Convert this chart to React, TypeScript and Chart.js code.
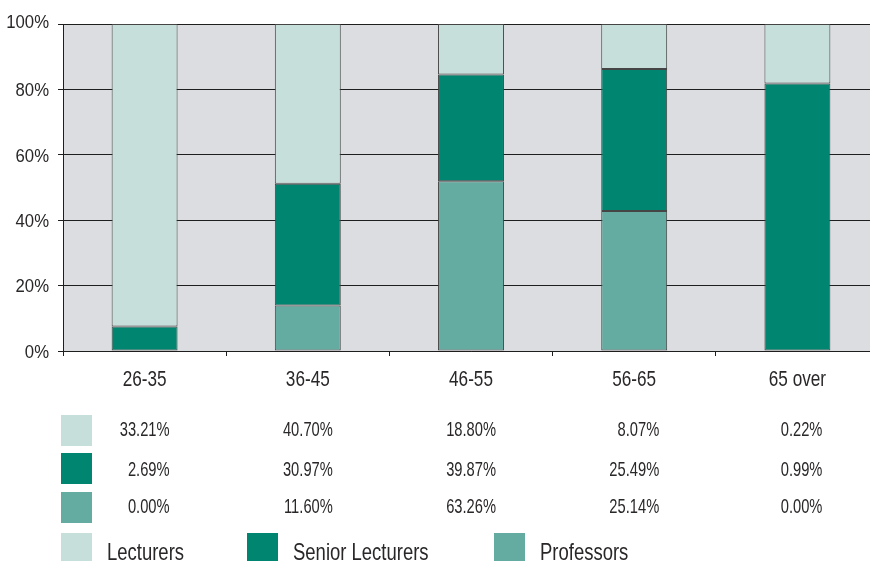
import React, { useEffect, useRef } from "react";
import { Chart, registerables } from "chart.js";

Chart.register(...registerables);

// Share of staff in each age group, by grade (per cent)
const ageGroups = ["26-35", "36-45", "46-55", "56-65", "65 over"];
const lecturers = [33.21, 40.7, 18.8, 8.07, 0.22];
const seniorLecturers = [2.69, 30.97, 39.87, 25.49, 0.99];
const professors = [0.0, 11.6, 63.26, 25.14, 0.0];
const seriesNames = ["Lecturers", "Senior Lecturers", "Professors"];
const seriesColors = ["#c6dfda", "#008570", "#64aca1"];
const yTickStep = 20;

const FONT = '"Liberation Sans", Arial, sans-serif';
const TEXT = "#2a2728";
const LINE = "#1e1e1e";

const totals = ageGroups.map((_, i) => lecturers[i] + seniorLecturers[i] + professors[i]);
const share = (arr: number[]) => arr.map((v, i) => (totals[i] > 0 ? (v / totals[i]) * 100 : 0));
const fmt = (v: number) => v.toFixed(2) + "%";

// Condensed-looking text: a regular sans squeezed horizontally
function drawText(
  ctx: CanvasRenderingContext2D,
  text: string,
  x: number,
  y: number,
  size: number,
  squeeze: number,
  align: CanvasTextAlign
) {
  ctx.save();
  ctx.translate(x, y);
  ctx.scale(squeeze, 1);
  ctx.font = `${size}px ${FONT}`;
  ctx.fillStyle = TEXT;
  ctx.textAlign = align;
  ctx.textBaseline = "alphabetic";
  ctx.fillText(text, 0, 0);
  ctx.restore();
}

// Axis labels, value table and legend
const textPlugin = {
  id: "condensedText",
  afterDraw(chart: any) {
    const ctx: CanvasRenderingContext2D = chart.ctx;
    const xs = chart.scales.x;
    const ys = chart.scales.y;

    // y tick labels (the top one sits a little higher)
    const last = ys.ticks.length - 1;
    ys.ticks.forEach((t: any, i: number) => {
      const py = ys.getPixelForTick(i) + (i === last ? -3 : 0);
      drawText(ctx, t.value + "%", 49, py + 6.8, 19, 0.88, "right");
    });

    // category labels
    ageGroups.forEach((g, i) => {
      drawText(ctx, g, xs.getPixelForValue(i), 385.5, 22, 0.78, "center");
    });

    // value table
    const rows = [lecturers, seniorLecturers, professors];
    const swatchTops = [415, 453, 492];
    const baselines = [436, 475.5, 513];
    const sw = 31;
    rows.forEach((row, r) => {
      ctx.fillStyle = seriesColors[r];
      ctx.fillRect(61, swatchTops[r], sw, sw);
      row.forEach((v, i) => {
        drawText(ctx, fmt(v), xs.getPixelForValue(i) + 25, baselines[r], 21, 0.7, "right");
      });
    });

    // legend
    const legendX = [61, 247, 494];
    const legendTop = 533;
    seriesNames.forEach((name, k) => {
      ctx.fillStyle = seriesColors[k];
      ctx.fillRect(legendX[k], legendTop, sw, sw);
      drawText(ctx, name, legendX[k] + 46, 560, 24, 0.77, "left");
    });
  },
};

export default function App() {
  const ref = useRef<HTMLCanvasElement>(null);

  useEffect(() => {
    document.body.style.margin = "0";
    const canvas = ref.current!;
    const barStyle = {
      borderColor: "#454545",
      borderWidth: 1,
      borderSkipped: false as const,
      barPercentage: 0.404,
      categoryPercentage: 1,
    };
    const chart = new Chart(canvas, {
      type: "bar",
      data: {
        labels: ageGroups,
        datasets: [
          { label: seriesNames[2], data: share(professors), backgroundColor: seriesColors[2], ...barStyle },
          { label: seriesNames[1], data: share(seniorLecturers), backgroundColor: seriesColors[1], ...barStyle },
          { label: seriesNames[0], data: share(lecturers), backgroundColor: seriesColors[0], ...barStyle },
        ],
      },
      options: {
        responsive: false,
        animation: false,
        devicePixelRatio: 1,
        layout: { padding: { top: 24, right: 1, left: 0, bottom: 0 } },
        plugins: {
          legend: { display: false },
          tooltip: { enabled: false },
        },
        scales: {
          x: {
            stacked: true,
            afterFit: (s: any) => {
              s.height = 210;
            },
            grid: {
              drawOnChartArea: false,
              drawTicks: true,
              tickLength: 5,
              color: LINE,
              lineWidth: 1,
            },
            border: { display: true, color: LINE, width: 1 },
            ticks: { display: false },
          },
          y: {
            stacked: true,
            min: 0,
            max: 100,
            afterFit: (s: any) => {
              s.width = 63;
            },
            grid: {
              color: LINE,
              lineWidth: 1,
              drawTicks: true,
              tickLength: 5,
            },
            border: { display: true, color: LINE, width: 1 },
            ticks: { stepSize: yTickStep, display: false },
          },
        },
      },
      plugins: [
        {
          id: "plotBackground",
          beforeDraw(c: any) {
            const { ctx, chartArea } = c;
            ctx.save();
            ctx.fillStyle = "#ffffff";
            ctx.fillRect(0, 0, c.width, c.height);
            ctx.fillStyle = "#dcdde0";
            ctx.fillRect(chartArea.left, chartArea.top, chartArea.right - chartArea.left, chartArea.bottom - chartArea.top);
            ctx.restore();
          },
        },
        textPlugin,
      ],
    });
    return () => chart.destroy();
  }, []);

  return (
    <div style={{ width: 870, height: 561, overflow: "hidden", position: "relative", background: "#fff" }}>
      <canvas ref={ref} width={880} height={561} style={{ display: "block", width: 880, height: 561 }} />
    </div>
  );
}
